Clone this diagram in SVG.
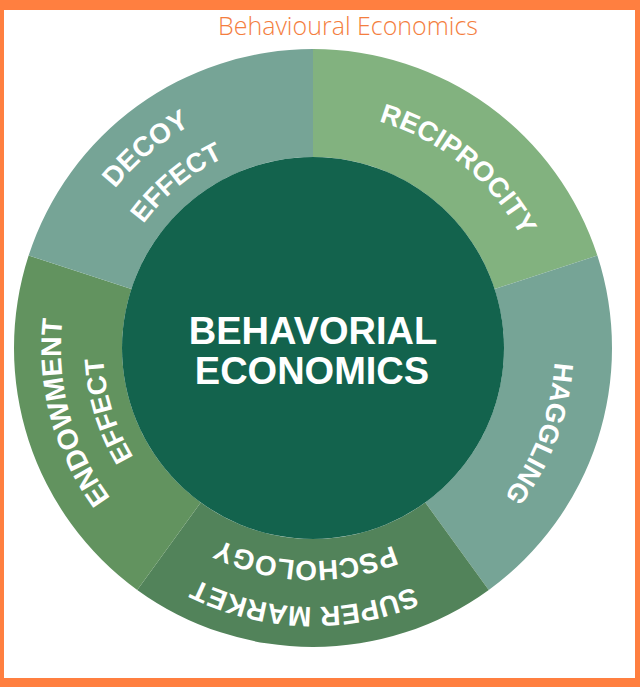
<svg xmlns="http://www.w3.org/2000/svg" width="640" height="687" viewBox="0 0 640 687">
<style>
.lbl{font-family:"Liberation Sans",Arial,sans-serif;font-weight:bold;fill:#ffffff;}
.title{font-family:"Open Sans","Liberation Sans",sans-serif;font-weight:300;fill:#F47E3E;}
</style>
<defs>
<path id="r254" d="M313,94 A254,254 0 0 1 313,602"/>
<path id="r210" d="M313,138 A210,210 0 0 1 313,558"/>
<path id="r236" d="M313,112 A236,236 0 0 1 313,584"/>
<path id="r242" d="M313,106 A242,242 0 0 1 313,590"/>
<path id="r259" d="M313,89 A259,259 0 0 1 313,607"/>
<path id="r213" d="M313,135 A213,213 0 0 1 313,561"/>
<path id="r252" d="M313,96 A252,252 0 0 1 313,600"/>
</defs>
<rect x="0" y="0" width="640" height="687" fill="#FF7F40"/>
<rect x="4" y="10" width="631" height="668" fill="#ffffff"/>
<text class="title" x="348" y="34.5" font-size="25" text-anchor="middle" textLength="260" lengthAdjust="spacingAndGlyphs">Behavioural Economics</text>

<g id="reciprocity">
<path d="M313,49 A299,299 0 0 1 597.37,255.60 L494.65,288.98 A191,191 0 0 0 313,157 Z" fill="#82B27F"/>
<g transform="rotate(-51 313 348)"><text class="lbl" font-size="27.5" text-anchor="middle"><textPath href="#r236" startOffset="50%">RECIPROCITY</textPath></text></g>
</g>
<g id="haggling">
<path d="M597.37,255.60 A299,299 0 0 1 488.75,589.90 L425.27,502.52 A191,191 0 0 0 494.65,288.98 Z" fill="#76A496"/>
<g transform="rotate(20.6 313 348)"><text class="lbl" font-size="27" text-anchor="middle"><textPath href="#r242" startOffset="50%">HAGGLING</textPath></text></g>
</g>
<g id="super-market">
<path d="M488.75,589.90 A299,299 0 0 1 137.25,589.90 L200.73,502.52 A191,191 0 0 0 425.27,502.52 Z" fill="#52835A"/>
<g transform="rotate(92 313 348)">
<text class="lbl" font-size="28" text-anchor="middle"><textPath href="#r259" startOffset="50%">SUPER MARKET</textPath></text>
<text class="lbl" font-size="28" text-anchor="middle"><textPath href="#r213" startOffset="50%">PSCHOLOGY</textPath></text>
</g>
</g>
<g id="endowment">
<path d="M137.25,589.90 A299,299 0 0 1 28.63,255.60 L131.35,288.98 A191,191 0 0 0 200.73,502.52 Z" fill="#62935F"/>
<g transform="rotate(165 313 348)"><text class="lbl" font-size="28.5" text-anchor="middle"><textPath href="#r252" startOffset="50%">ENDOWMENT</textPath></text></g>
<g transform="rotate(163 313 348)"><text class="lbl" font-size="27" text-anchor="middle"><textPath href="#r210" startOffset="50%">EFFECT</textPath></text></g>
</g>
<g id="decoy">
<path d="M28.63,255.60 A299,299 0 0 1 313,49 L313,157 A191,191 0 0 0 131.35,288.98 Z" fill="#76A496"/>
<g transform="rotate(230 313 348)"><text class="lbl" font-size="28" text-anchor="middle"><textPath href="#r254" startOffset="50%">DECOY</textPath></text></g>
<g transform="rotate(230.5 313 348)"><text class="lbl" font-size="27" text-anchor="middle"><textPath href="#r210" startOffset="50%">EFFECT</textPath></text></g>
</g>
<g id="center">
<circle cx="313" cy="348" r="191" fill="#13634D"/>
<text class="lbl" x="313" y="344" font-size="38" text-anchor="middle">BEHAVORIAL</text>
<text class="lbl" x="312" y="384" font-size="38" text-anchor="middle">ECONOMICS</text>
</g>
</svg>
